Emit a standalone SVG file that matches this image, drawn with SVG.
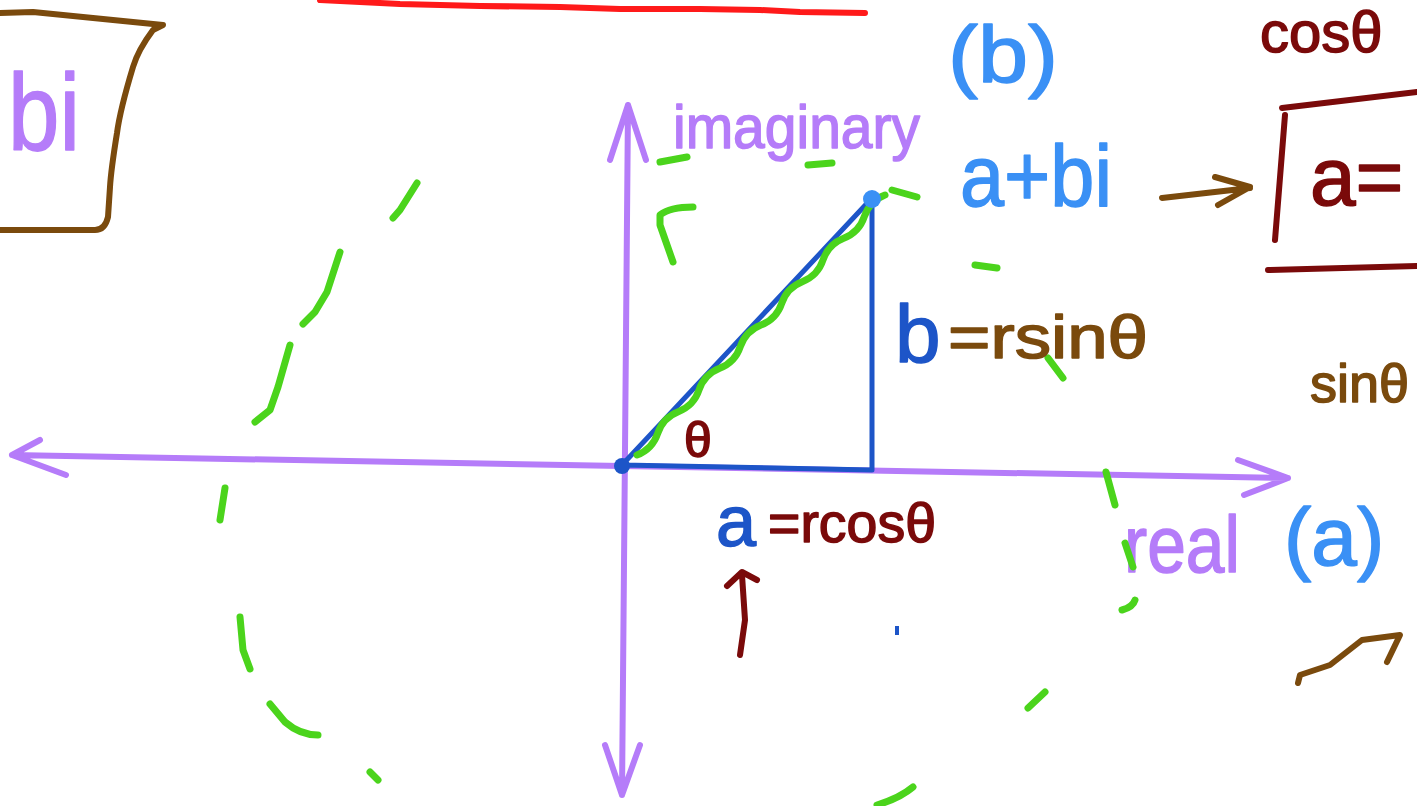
<svg xmlns="http://www.w3.org/2000/svg" width="1417" height="806" viewBox="0 0 1417 806">
<style>
.s{fill:none;stroke-linecap:round;stroke-linejoin:round}
.pu{stroke:#b57cf9;stroke-width:6}
.gr{stroke:#4bd41c;stroke-width:7}
.db{stroke:#1d55c8;stroke-width:5}
.br{stroke:#7a4a0d;stroke-width:6}
.dr{stroke:#7a0a0a;stroke-width:6}
text{font-family:"Liberation Sans","DejaVu Sans",sans-serif;stroke-width:1.5;stroke-linejoin:round}
.tpu{fill:#b57cf9;stroke:#b57cf9}.tlb{fill:#3a90f5;stroke:#3a90f5}.tdb{fill:#1d55c8;stroke:#1d55c8}.tbr{fill:#7a4a0d;stroke:#7a4a0d}.tdr{fill:#7a0a0a;stroke:#7a0a0a}
</style>
<rect width="1417" height="806" fill="#fff"/>
<g id="top-line">
<path class="s" stroke="#ff1a1a" stroke-width="6" d="M320 0 L400 4 L480 6 L560 7 L620 9 L700 9 L760 10 L800 12 L865 13"/>
</g>
<g id="bi-box">
<path class="s br" d="M0 13 L33 12 L163 25 L153 30 Q138 50 133 67 Q120 110 117 133 Q111 170 110 187 L108 217 Q105 230 95 230 L0 230"/>
<text class="tpu" x="8" y="150" font-size="110" textLength="72" lengthAdjust="spacingAndGlyphs">bi</text>
</g>
<g id="axes">
<path class="s pu" d="M12 455 L1288 478 M40 440 L12 455 L66 475 M1238 460 L1288 478 L1244 495"/>
<path class="s pu" d="M628 105 L622 795 M610 160 L628 105 L646 160 M605 745 L622 795 L640 745"/>
<text class="tpu" x="673" y="148" font-size="62" textLength="247" lengthAdjust="spacingAndGlyphs">imaginary</text>
<text class="tpu" x="1124" y="572" font-size="80" textLength="116" lengthAdjust="spacingAndGlyphs">real</text>
</g>
<g id="circle">
<path class="s gr" d="M417 183 L400 210 L393 218 M340 252 L327 292 L315 312 L303 324 M290 345 L278 387 L270 410 L255 422 M225 488 L220 520 M240 617 L243 650 L250 669 M270 704 L285 722 Q300 735 318 735 M370 772 L378 780 M877 805 Q900 798 913 787 M1028 708 L1045 692 M1122 610 Q1133 607 1135 600 M1125 543 L1133 567 M1106 472 L1115 505 M1048 358 L1063 378 M975 265 L997 268 M892 190 L917 197 M808 165 L832 163 M660 162 L687 157"/>
<path class="s gr" d="M673 262 L660 225 L660 215 Q670 207 693 207"/>
</g>
<g id="triangle">
<path class="s db" d="M622 465 L872 198 L872 470 L622 465"/>
<path class="s gr" d="M637 455 Q652.4 449 657.7 433.3 Q662.9 417.7 678.3 411.7 Q693.8 405.6 699 390 Q704.2 374.4 719.7 368.3 Q735.1 362.3 740.3 346.7 Q745.6 331 761 325 Q776.4 319 781.7 303.3 Q786.9 287.7 802.3 281.7 Q817.8 275.6 823 260 Q828.2 244.4 843.7 238.3 Q859.1 232.3 864.3 216.7 Q869.6 201 885 195"/>
<circle cx="622" cy="466" r="8" fill="#1d55c8"/>
<circle cx="872" cy="199" r="9" fill="#3a90f5"/>
<text class="tdr" x="684" y="457" font-size="50" stroke-width="3">θ</text>
</g>
<g id="labels">
<text class="tlb" x="948" y="82" font-size="80" textLength="110" lengthAdjust="spacingAndGlyphs">(b)</text>
<text class="tlb" x="960" y="206" font-size="88" textLength="152" lengthAdjust="spacingAndGlyphs">a+bi</text>
<text class="tdb" x="895" y="362" font-size="82">b</text>
<text class="tbr" x="948" y="358" font-size="62" textLength="200" lengthAdjust="spacingAndGlyphs">=rsinθ</text>
<text class="tdb" x="716" y="546" font-size="72">a</text>
<text class="tdr" x="768" y="542" font-size="56" textLength="168" lengthAdjust="spacingAndGlyphs">=rcosθ</text>
<text class="tlb" x="1284" y="565" font-size="82">(a)</text>
<text class="tdr" x="1260" y="52" font-size="58">cosθ</text>
<text class="tbr" x="1310" y="402" font-size="54">sinθ</text>
<rect x="895" y="626" width="4" height="9" fill="#1d55c8"/>
</g>
<g id="right-box">
<path class="s dr" d="M1282 108 L1417 92 M1285 115 L1275 240 M1268 270 L1417 266"/>
<text class="tdr" x="1310" y="205" font-size="82">a=</text>
</g>
<g id="arrows">
<path class="s br" d="M1162 198 L1250 188 M1215 177 L1250 187 L1218 205"/>
<path class="s dr" d="M740 655 L745 620 L742 575 M727 586 L742 572 L757 580"/>
<path class="s br" d="M1298 683 L1300 675 L1330 665 L1362 640 L1400 635 L1387 662"/>
</g>
</svg>
